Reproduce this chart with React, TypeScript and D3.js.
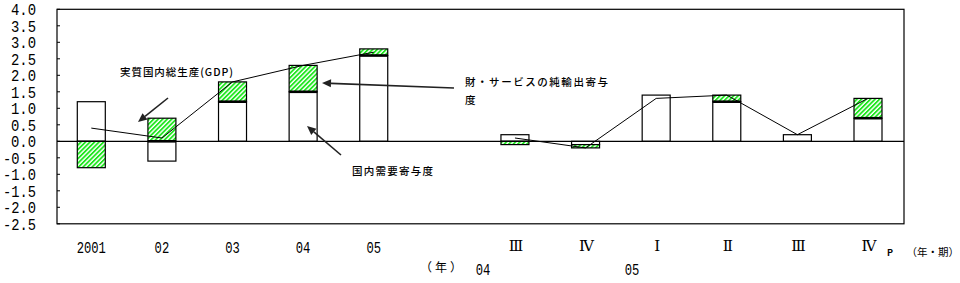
import React from "react";
import * as d3 from "d3";

const categoryLabels = ["2001", "02", "03", "04", "05", "", "Ⅲ", "Ⅳ", "Ⅰ", "Ⅱ", "Ⅲ", "Ⅳ"];
const domestic: (number | null)[] = [1.2, -0.6, 1.2, 1.5, 2.6, null, 0.2, -0.1, 1.4, 1.2, 0.2, 0.7];
const netExports: (number | null)[] = [-0.8, 0.7, 0.6, 0.8, 0.2, null, -0.1, -0.1, 0.0, 0.2, 0.0, 0.6];
const gdp: (number | null)[] = [0.4, 0.1, 1.8, 2.3, 2.7, null, 0.1, -0.2, 1.3, 1.4, 0.2, 1.3];
const yTicks = [4.0, 3.5, 3.0, 2.5, 2.0, 1.5, 1.0, 0.5, 0.0, -0.5, -1.0, -1.5, -2.0, -2.5];
const yearLabels = [
  { text: "04", x: 483 },
  { text: "05", x: 632 },
];

const W = 960;
const H = 283;
const left = 57;
const right = 904;
const top = 9.3;
const bottom = 223.8;
const barW = 28;
const green = "#1ee61e";
const numFont = "'Liberation Mono', 'DejaVu Sans Mono', monospace";
const jpFont = "'Noto Sans CJK JP', sans-serif";

function Arrow({ x1, y1, x2, y2 }: { x1: number; y1: number; y2: number; x2: number }) {
  const ang = Math.atan2(y2 - y1, x2 - x1);
  const L = 9;
  const Wd = 4;
  const bx = x2 - L * Math.cos(ang);
  const by = y2 - L * Math.sin(ang);
  const px = -Math.sin(ang) * Wd;
  const py = Math.cos(ang) * Wd;
  return (
    <g>
      <line x1={x1} y1={y1} x2={bx} y2={by} stroke="#222" strokeWidth={1.6} />
      <path d={`M${x2},${y2}L${bx + px},${by + py}L${bx - px},${by - py}Z`} fill="#222" />
    </g>
  );
}

export default function App() {
  const idx = categoryLabels.map((_, i) => i);
  const x = d3.scalePoint<number>().domain(idx).range([91.3, 868]);
  const y = d3.scaleLinear().domain([-2.5, 4.0]).range([bottom, top]);

  const rows = idx
    .filter((i) => domestic[i] !== null)
    .map((i) => ({ i, d: domestic[i] as number, n: netExports[i] as number }));
  const stack = d3
    .stack<{ i: number; d: number; n: number }>()
    .keys(["d", "n"])
    .value((r, k) => (r as any)[k])
    .offset(d3.stackOffsetDiverging);
  const series = stack(rows);
  const domSeries = series[0];
  const netSeries = series[1];

  const line = d3
    .line<number | null>()
    .defined((v) => v !== null)
    .x((_, i) => x(i) as number)
    .y((v) => y(v as number));

  return (
    <svg width={W} height={H} style={{ position: "absolute", left: 0, top: 0 }}>
      <defs>
        <pattern id="hatch" patternUnits="userSpaceOnUse" width={3.2} height={3.2} patternTransform="rotate(45)">
          <rect width={3.2} height={3.2} fill="#ffffff" />
          <rect width={1.8} height={3.2} fill={green} />
        </pattern>
      </defs>
      <rect x={0} y={0} width={W} height={H} fill="#fff" />
      {/* frame */}
      <rect x={left} y={top} width={right - left} height={bottom - top} fill="none" stroke="#000" strokeWidth={1.2} />
      {/* y ticks */}
      {yTicks.map((t) => (
        <g key={t}>
          <line x1={left} x2={left + 3} y1={y(t)} y2={y(t)} stroke="#000" strokeWidth={1} />
          <text
            x={36}
            y={y(t) + 5.8}
            textAnchor="end"
            fontFamily={numFont}
            fontSize={16}
            textLength={t < 0 ? 33 : 25}
            lengthAdjust="spacingAndGlyphs"
            fill="#000"
          >
            {(t < 0 ? "-" : "") + Math.abs(t).toFixed(1)}
          </text>
        </g>
      ))}
      {/* domestic bars */}
      {domSeries.map((s, k) => {
        const r = rows[k];
        const y0 = y(Math.max(s[0], s[1]));
        const y1 = y(Math.min(s[0], s[1]));
        if (Math.abs(y1 - y0) < 0.5) return null;
        return (
          <rect
            key={"d" + r.i}
            x={(x(r.i) as number) - barW / 2}
            y={y0}
            width={barW}
            height={y1 - y0}
            fill="#fff"
            stroke="#000"
            strokeWidth={1.2}
          />
        );
      })}
      {/* net export bars */}
      {netSeries.map((s, k) => {
        const r = rows[k];
        const y0 = y(Math.max(s[0], s[1]));
        const y1 = y(Math.min(s[0], s[1]));
        if (Math.abs(y1 - y0) < 0.5) return null;
        return (
          <rect
            key={"n" + r.i}
            x={(x(r.i) as number) - barW / 2}
            y={y0}
            width={barW}
            height={y1 - y0}
            fill="url(#hatch)"
            stroke="#000"
            strokeWidth={1.2}
          />
        );
      })}
      {/* thick boundary lines */}
      {netSeries.map((s, k) => {
        const r = rows[k];
        if (r.n <= 0) return null;
        const yy = y(s[0]);
        return (
          <line
            key={"t" + r.i}
            x1={(x(r.i) as number) - barW / 2}
            x2={(x(r.i) as number) + barW / 2}
            y1={yy}
            y2={yy}
            stroke="#000"
            strokeWidth={2.6}
          />
        );
      })}
      {/* zero line */}
      <line x1={left} x2={right} y1={y(0)} y2={y(0)} stroke="#000" strokeWidth={1.2} />
      {/* GDP line */}
      <path d={line(gdp) || ""} fill="none" stroke="#000" strokeWidth={1} />
      {/* x labels */}
      {categoryLabels.map((c, i) =>
        i < 5 ? (
          <text
            key={"x" + i}
            x={x(i) as number}
            y={252.5}
            textAnchor="middle"
            fontFamily={numFont}
            fontSize={16}
            textLength={c.length * 7.3}
            lengthAdjust="spacingAndGlyphs"
          >
            {c}
          </text>
        ) : c ? (
          <text
            key={"x" + i}
            x={(x(i) as number) + 1}
            y={250.5}
            textAnchor="middle"
            fontFamily="'DejaVu Serif', 'Noto Sans CJK JP', serif"
            fontSize={15}
          >
            {c}
          </text>
        ) : null
      )}
      {yearLabels.map((l) => (
        <text
          key={l.text + l.x}
          x={l.x}
          y={275}
          textAnchor="middle"
          fontFamily={numFont}
          fontSize={16}
          textLength={14.6}
          lengthAdjust="spacingAndGlyphs"
        >
          {l.text}
        </text>
      ))}
      <text x={887} y={256} fontFamily={jpFont} fontSize={9} fontWeight={700}>
        P
      </text>
      <text x={906.5} y={256} fontFamily={jpFont} fontSize={10.5}>
        （年・期）
      </text>
      <text x={420} y={272} fontFamily={jpFont} fontSize={12} letterSpacing={3}>
        （年）
      </text>
      {/* annotations */}
      <text x={120} y={76} fontFamily={jpFont} fontSize={10.5} fontWeight={500} textLength={113} lengthAdjust="spacing">
        実質国内総生産(GDP)
      </text>
      <text x={465} y={86} fontFamily={jpFont} fontSize={10.5} fontWeight={500} textLength={143} lengthAdjust="spacing">
        財・サービスの純輸出寄与
      </text>
      <text x={465} y={104} fontFamily={jpFont} fontSize={10.5} fontWeight={500}>
        度
      </text>
      <text x={352} y={175} fontFamily={jpFont} fontSize={10.5} fontWeight={500} textLength={81} lengthAdjust="spacing">
        国内需要寄与度
      </text>
      <Arrow x1={168} y1={98} x2={138} y2={122} />
      <Arrow x1={454} y1={88} x2={322} y2={83} />
      <Arrow x1={341} y1={155} x2={307} y2={126} />
    </svg>
  );
}
